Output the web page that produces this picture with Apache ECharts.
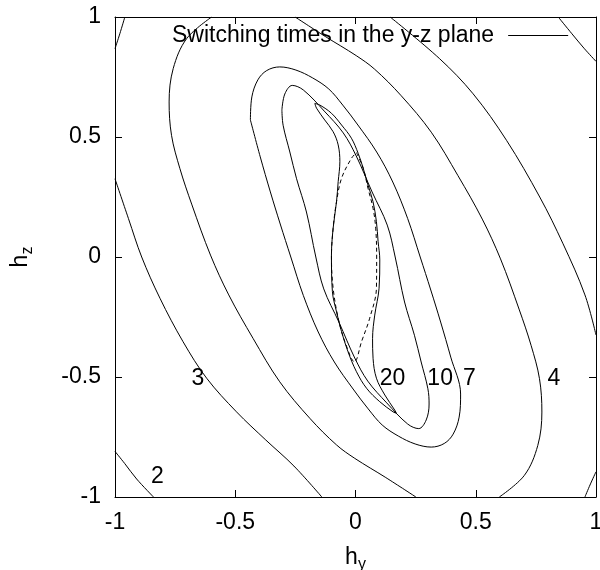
<!DOCTYPE html>
<html>
<head>
<meta charset="utf-8">
<script src="https://cdn.jsdelivr.net/npm/echarts@6/dist/echarts.min.js"></script>
<style>
html,body{margin:0;padding:0;background:#fff;}
#chart{width:600px;height:570px;}
</style>
</head>
<body>
<div id="chart"></div>
<script>
// ---- data (h_y, h_z) ----
const xTicks = [-1, -0.5, 0, 0.5, 1];
const yTicks = [-1, -0.5, 0, 0.5, 1];
const legendName = 'Switching times in the y-z plane';

const level2a = [[-1,-0.81],[-0.96,-0.86],[-0.91,-0.925],[-0.84,-1]];
const level2b = [[0.843,1],[0.9,0.93],[0.95,0.87],[1,0.815]];
const cornerA = [[-1,0.868],[-0.98,0.93],[-0.959,1]];
const cornerB = [[0.954,-1],[0.975,-0.95],[1,-0.895]];
const level3a = [[-1,0.326],[-0.944,0.16],[-0.889,0],[-0.813,-0.172],[-0.717,-0.353],[-0.619,-0.505],[-0.495,-0.645],[-0.373,-0.7625],[-0.256,-0.871],[-0.14,-1]];
const level3b = [[0.144,1],[0.35,0.826],[0.489,0.68],[0.628,0.486],[0.766,0.25],[0.863,0.055],[0.954,-0.158],[1,-0.325]];
const level4a = [[-0.598,1],[-0.702,0.91],[-0.758,0.785],[-0.775,0.646],[-0.765,0.507],[-0.73,0.368],[-0.68,0.217],[-0.603,0.008],[-0.527,-0.158],[-0.426,-0.339],[-0.315,-0.52],[-0.19,-0.672],[-0.079,-0.783],[-0.003,-0.839],[0.126,-0.919],[0.251,-1]];
const level4b = [[0.598,-1],[0.702,-0.91],[0.758,-0.785],[0.775,-0.646],[0.765,-0.507],[0.73,-0.368],[0.68,-0.217],[0.603,-0.008],[0.527,0.158],[0.426,0.339],[0.315,0.52],[0.19,0.672],[0.079,0.783],[0.003,0.839],[-0.126,0.919],[-0.251,1]];
const level7 = [[-0.437,0.571],[-0.431,0.667],[-0.406,0.738],[-0.369,0.777],[-0.315,0.792],[-0.248,0.779],[-0.178,0.746],[-0.111,0.7],[-0.053,0.633],[0.01,0.55],[0.088,0.4375],[0.155,0.3125],[0.217,0.16],[0.269,0],[0.313,-0.1375],[0.354,-0.271],[0.396,-0.417],[0.437,-0.571],[0.431,-0.667],[0.406,-0.738],[0.369,-0.777],[0.315,-0.792],[0.248,-0.779],[0.178,-0.746],[0.111,-0.7],[0.053,-0.633],[-0.01,-0.55],[-0.088,-0.4375],[-0.155,-0.3125],[-0.217,-0.16],[-0.269,0],[-0.313,0.1375],[-0.354,0.271],[-0.396,0.417],[-0.437,0.571]];
const level10 = [[-0.306,0.6125],[-0.294,0.679],[-0.263,0.715],[-0.217,0.696],[-0.13,0.608],[-0.051,0.517],[0.003,0.421],[0.069,0.271],[0.132,0.133],[0.165,0],[0.204,-0.1875],[0.245,-0.326],[0.273,-0.4375],[0.301,-0.549],[0.306,-0.6125],[0.294,-0.679],[0.263,-0.715],[0.217,-0.696],[0.13,-0.608],[0.051,-0.517],[-0.003,-0.421],[-0.069,-0.271],[-0.132,-0.133],[-0.165,0],[-0.204,0.1875],[-0.245,0.326],[-0.273,0.4375],[-0.301,0.549],[-0.306,0.6125]];
const level20 = [[-0.169,0.64],[-0.148,0.633],[-0.1,0.599],[-0.058,0.55],[-0.017,0.495],[0.011,0.432],[0.032,0.37],[0.052,0.3],[0.073,0.23],[0.087,0.147],[0.094,0.064],[0.101,-0.012],[0.098,-0.13],[0.08,-0.242],[0.071,-0.339],[0.073,-0.422],[0.087,-0.505],[0.122,-0.575],[0.163,-0.6375],[0.17,-0.651],[0.156,-0.645],[0.101,-0.603],[0.046,-0.547],[0.004,-0.478],[-0.031,-0.395],[-0.058,-0.311],[-0.079,-0.228],[-0.096,-0.145],[-0.1,0.008],[-0.093,0.12],[-0.079,0.23],[-0.072,0.314],[-0.065,0.397],[-0.072,0.467],[-0.093,0.522],[-0.128,0.571],[-0.162,0.62],[-0.169,0.64]];
const lensDashed = [[0.004,0.435],[0.032,0.37],[0.052,0.286],[0.073,0.203],[0.084,0.12],[0.088,0],[0.087,-0.13],[0.059,-0.255],[0.025,-0.353],[-0.004,-0.437],[-0.044,-0.353],[-0.072,-0.255],[-0.093,-0.13],[-0.1,0],[-0.093,0.12],[-0.079,0.23],[-0.058,0.328],[-0.017,0.411],[0.004,0.435]];

const contourLabels = [[0.154,-0.505,'20'],[0.352,-0.505,'10'],[0.474,-0.505,'7'],[0.825,-0.505,'4'],[-0.655,-0.505,'3'],[-0.824,-0.915,'2']];

const solidCurves = [level2a, level2b, cornerA, cornerB, level3a, level3b, level4a, level4b, level7, level10, level20];

// ---- chart ----
const FONT = '"Liberation Sans", Arial, Helvetica, sans-serif';
const chart = echarts.init(document.getElementById('chart'), null, {renderer: 'canvas'});

const axisCommon = {
  type: 'value', min: -1, max: 1, interval: 0.5,
  splitLine: {show: false},
  axisLine: {show: true, onZero: false, lineStyle: {color: '#000', width: 1}},
  axisTick: {show: true, inside: true, length: 7, lineStyle: {color: '#000', width: 1}},
};

const series = solidCurves.map(c => ({
  name: legendName, type: 'line', data: c, showSymbol: false, symbol: 'none',
  lineStyle: {color: '#000', width: 1}, itemStyle: {color: '#000'},
  smooth: 0.35, animation: false, silent: true, z: 3
}));
series.push({
  name: 'boundary', type: 'line', data: lensDashed, showSymbol: false, symbol: 'none',
  lineStyle: {color: '#000', width: 1, type: [4, 3]}, smooth: 0.35, animation: false, silent: true
});
series.push({
  name: 'labels', type: 'scatter', data: contourLabels, symbolSize: 0,
  itemStyle: {opacity: 1, color: '#000'},
  label: {show: true, position: 'inside', formatter: p => p.data[2], color: '#000', opacity: 1, fontSize: 23, fontFamily: FONT},
  animation: false, silent: true, z: 5
});

chart.setOption({
  backgroundColor: '#fff',
  animation: false,
  grid: {left: 115, top: 17, width: 481, height: 480, containLabel: false, outerBoundsMode: 'none'},
  legend: {
    data: [{name: legendName, icon: 'path://M0,0 L60,0 L60,1 L0,1 Z'}],
    left: 172, top: 24, align: 'right', padding: 0,
    itemWidth: 60, itemHeight: 1.2, itemGap: 0,
    textStyle: {fontFamily: FONT, fontSize: 23, color: '#000', padding: [0, 9, 0, 0]},
    itemStyle: {color: '#000'},
    selectedMode: false
  },
  xAxis: [
    Object.assign({}, axisCommon, {
      position: 'bottom',
      axisLabel: {show: true, color: '#000', fontSize: 23, fontFamily: FONT, margin: 14},
      name: '{a|h}{b|y}', nameLocation: 'middle', nameGap: 48,
      nameTextStyle: {color: '#000', fontFamily: FONT,
        rich: {a: {fontSize: 23, fontFamily: FONT, color: '#000', lineHeight: 26},
               b: {fontSize: 16, fontFamily: FONT, color: '#000', padding: [14, 0, 0, 0], lineHeight: 26}}}
    }),
    Object.assign({}, axisCommon, {position: 'top', axisLabel: {show: false}})
  ],
  yAxis: [
    Object.assign({}, axisCommon, {
      position: 'left',
      axisLabel: {show: true, color: '#000', fontSize: 23, fontFamily: FONT, margin: 14},
      name: '{a|h}{b|z}', nameLocation: 'middle', nameGap: 81, nameRotate: 90,
      nameTextStyle: {color: '#000', fontFamily: FONT,
        rich: {a: {fontSize: 23, fontFamily: FONT, color: '#000', lineHeight: 26},
               b: {fontSize: 16, fontFamily: FONT, color: '#000', padding: [14, 0, 0, 0], lineHeight: 26}}}
    }),
    Object.assign({}, axisCommon, {position: 'right', axisLabel: {show: false}})
  ],
  series: series
});
</script>
</body>
</html>
